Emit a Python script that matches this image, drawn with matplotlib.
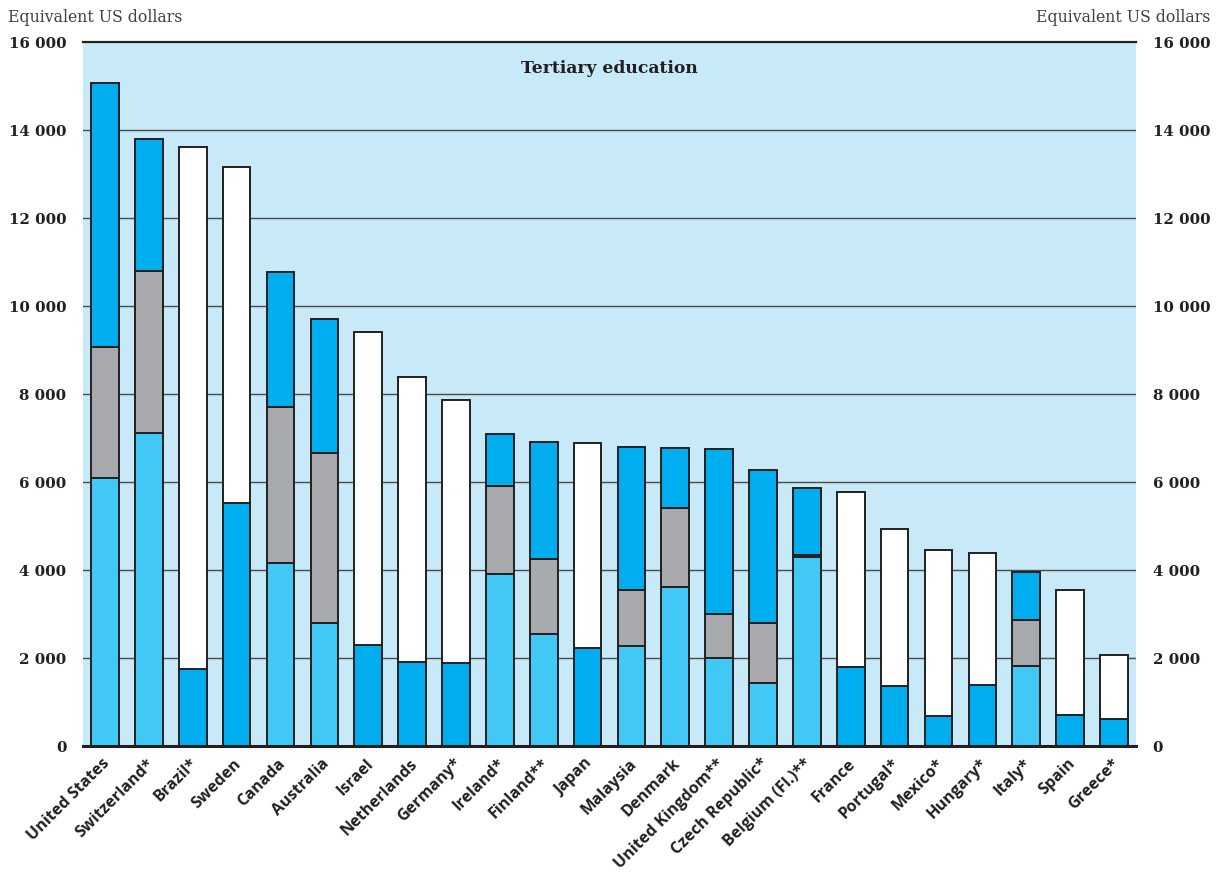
import numpy as np
import matplotlib
matplotlib.use("Agg")
import matplotlib.pyplot as plt
import matplotlib.transforms as mtransforms
from matplotlib.ticker import FuncFormatter, MultipleLocator

nan = np.nan

countries = [
    "United States", "Switzerland*", "Brazil*", "Sweden", "Canada", "Australia",
    "Israel", "Netherlands", "Germany*", "Ireland*", "Finland**", "Japan",
    "Malaysia", "Denmark", "United Kingdom**", "Czech Republic*", "Belgium (Fl.)**",
    "France", "Portugal*", "Mexico*", "Hungary*", "Italy*", "Spain", "Greece*",
]

# Countries with a full breakdown: core services, ancillary services, R&D (stacked on top)
core = [6080, 7120, nan, nan, 4170, 2790, nan, nan, nan, 3920, 2550, nan,
        2280, 3610, 2000, 1440, 4290, nan, nan, nan, nan, 1810, nan, nan]
ancillary = [3000, 3680, nan, nan, 3540, 3870, nan, nan, nan, 2000, 1700, nan,
             1270, 1800, 1010, 1360, 60, nan, nan, nan, nan, 1050, nan, nan]
rd_top = [5980, 2990, nan, nan, 3070, 3050, nan, nan, nan, 1170, 2660, nan,
          3250, 1360, 3740, 3470, 1520, nan, nan, nan, nan, 1100, nan, nan]

# Countries where only R&D is separated: R&D at the base, core + ancillary above
rd_base = [nan, nan, 1750, 5520, nan, nan, 2300, 1900, 1890, nan, nan, 2230,
           nan, nan, nan, nan, nan, 1790, 1370, 690, 1390, nan, 700, 610]
core_and_ancillary = [nan, nan, 11870, 7650, nan, nan, 7110, 6490, 5970, nan, nan, 4650,
                      nan, nan, nan, nan, nan, 3980, 3560, 3760, 3000, nan, 2840, 1450]

C_BG = "#C8E9F8"
C_CORE = "#42C8F4"
C_ANC = "#A7A9AC"
C_RD = "#00AEEF"
C_WHITE = "#FFFFFF"
C_EDGE = "#231F20"

fig = plt.figure(figsize=(12.25, 8.76), dpi=100)
ax = fig.add_axes([0.0678, 0.1484, 0.8595, 0.8036])
ax.set_facecolor(C_BG)

x = np.arange(len(countries))
w = 0.63
kw = dict(width=w, edgecolor=C_EDGE, linewidth=1.4, zorder=3)

core_a = np.array(core, float)
anc_a = np.array(ancillary, float)
rdt_a = np.array(rd_top, float)
rdb_a = np.array(rd_base, float)
ca_a = np.array(core_and_ancillary, float)

full = ~np.isnan(core_a)
part = ~np.isnan(rdb_a)

ax.bar(x[full], core_a[full], color=C_CORE, **kw)
ax.bar(x[full], anc_a[full], bottom=core_a[full], color=C_ANC, **kw)
ax.bar(x[full], rdt_a[full], bottom=core_a[full] + anc_a[full], color=C_RD, **kw)

ax.bar(x[part], rdb_a[part], color=C_RD, **kw)
ax.bar(x[part], ca_a[part], bottom=rdb_a[part], color=C_WHITE, **kw)

ax.set_xlim(-0.5, len(countries) - 0.5)
ax.set_ylim(0, 16000)

# Horizontal rules at every 2 000
for v in range(2000, 16000, 2000):
    ax.axhline(v, color="#4a4a4a", linewidth=1.0, zorder=1)
ax.axhline(16000, color=C_EDGE, linewidth=1.6, zorder=4, clip_on=False)
ax.axhline(0, color=C_EDGE, linewidth=2.2, zorder=4, clip_on=False)

for s in ax.spines.values():
    s.set_visible(False)

ax.yaxis.set_major_locator(MultipleLocator(2000))
ax.yaxis.set_major_formatter(FuncFormatter(lambda v, p: f"{int(v):,}".replace(",", " ")))
ax.tick_params(axis="y", length=0, labelleft=True, labelright=True, pad=12)
for lab in ax.get_yticklabels():
    lab.set_fontfamily("DejaVu Serif")
    lab.set_fontweight("bold")
    lab.set_fontsize(10.8)
    lab.set_color("#231F20")

ax.set_xticks(x)
ax.set_xticklabels(countries, rotation=45, ha="right", rotation_mode="anchor",
                   fontsize=11.6, fontweight="bold", family="Open Sans", color="#231F20")
ax.tick_params(axis="x", length=0, pad=7)
shift = mtransforms.ScaledTranslation(-3 / 100, 0, fig.dpi_scale_trans)
for lab in ax.get_xticklabels():
    lab.set_transform(lab.get_transform() + shift)

ax.text(0.5, 0.963, "Tertiary education", transform=ax.transAxes, ha="center", va="center",
        fontsize=12.3, fontweight="bold", family="DejaVu Serif", color="#231F20", zorder=5)

fig.text(8 / 1225, 1 - 17 / 876, "Equivalent US dollars", ha="left", va="center",
         fontsize=11.3, family="DejaVu Serif", color="#3f3f3f")
fig.text(1210 / 1225, 1 - 17 / 876, "Equivalent US dollars", ha="right", va="center",
         fontsize=11.3, family="DejaVu Serif", color="#3f3f3f")

fig.savefig("out.png", dpi=100)
